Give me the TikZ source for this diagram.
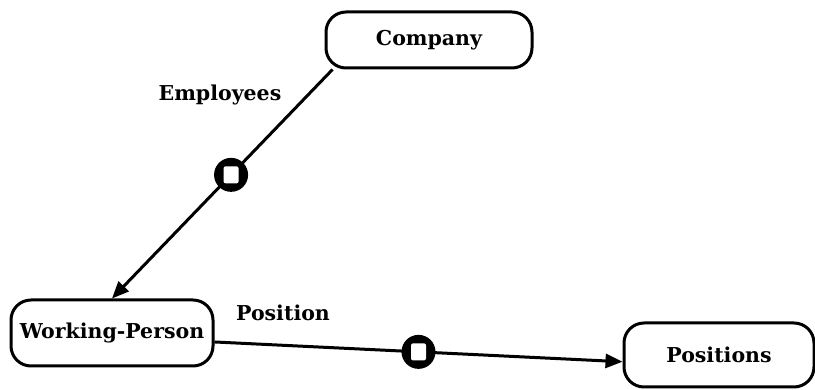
\documentclass[tikz,border=0pt]{standalone}
\usepackage{fontspec}
\setmainfont{DejaVu Serif}
\usepackage{tikz}
\usetikzlibrary{arrows.meta}

\begin{document}
\begin{tikzpicture}[x=1pt,y=-1pt,
        every node/.style={font=\fontsize{20.5}{24}\selectfont\bfseries},
        entity/.style={draw,line width=3pt,rounded corners=20pt,inner sep=0pt},
        link/.style={line width=3pt,-{Triangle[length=17pt,width=14pt]}},
        marker/.style={circle,fill=black,minimum size=34pt,inner sep=0pt,
            path picture={\fill[white,rounded corners=2pt]
                ([shift={(-7.5pt,-8.5pt)}]path picture bounding box.center)
                rectangle ++(15pt,17pt);}}]
            \useasboundingbox (0,0) rectangle (815,390);

            % the three objects
            \node[entity,minimum width=206pt,minimum height=56pt] (Company) at (429,40) {Company};
            \node[entity,minimum width=202pt,minimum height=66pt] (WP) at (112,333) {Working-Person};
            \node[entity,minimum width=190pt,minimum height=64pt] (Positions) at (719,355) {Positions};

            % attributes
            \draw[link] (Company.197) -- node[marker,pos=0.46] (m1) {} (WP.north);
            \draw[link] (WP.-5) -- node[marker,pos=0.5] (m2) {} (Positions.184);

            \node (employees) at (220,95) {Employees};
            \node (position) at (283,313) {Position};
        \end{tikzpicture}
\end{document}
